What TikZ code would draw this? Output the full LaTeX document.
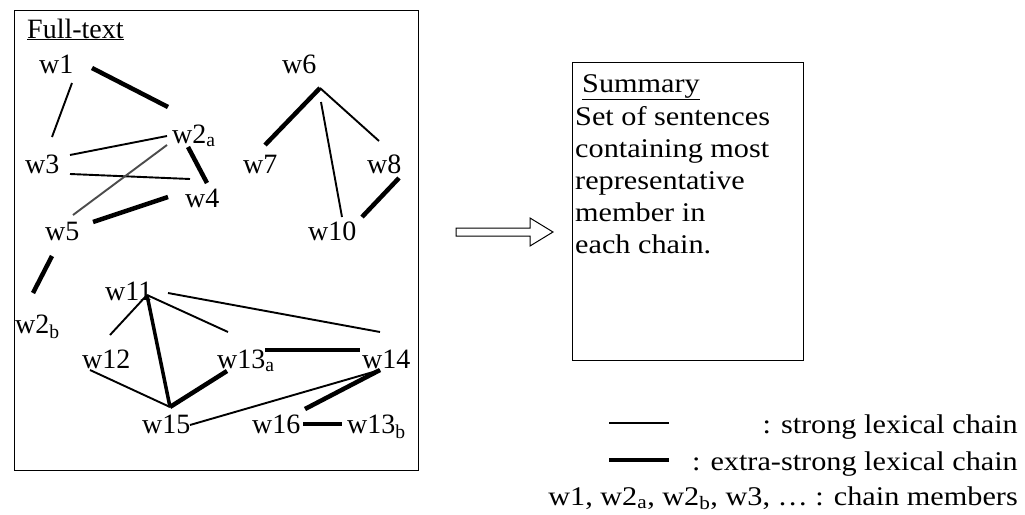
\documentclass[tikz,border=0pt]{standalone}
\usepackage{fontspec}
\setmainfont{Liberation Serif}
\newfontfamily\widefont[FakeStretch=1.12]{Liberation Serif}
\usetikzlibrary{calc}
\begin{document}
\begin{tikzpicture}[x=1pt,y=-1pt,
  lbl/.style={inner sep=0pt,anchor=base west,font=\fontsize{28}{30}\selectfont},
  wtxt/.style={inner sep=0pt,font=\widefont\fontsize{27}{30}\selectfont},
  strong/.style={line width=1.9pt},
  xstrong/.style={line width=4.5pt},
  frame/.style={draw,line width=1.3pt,inner sep=0pt,anchor=north west}]
\useasboundingbox[fill=white] (0,0) rectangle (1025,514);
% frames
\node[frame,minimum width=404,minimum height=460] (full) at (14,10) {};
\node[frame,minimum width=231,minimum height=298] (sumbox) at (572,62) {};
% labels
\node[lbl] (ft) at (27,38) {\underline{Full-text}};
\node[lbl] (w1) at (39,73) {w1};
\node[lbl] (w6) at (282,73) {w6};
\node[lbl] (w2a) at (172,143) {w2\textsubscript{a}};
\node[lbl] (w3) at (25,173) {w3};
\node[lbl] (w7) at (243,173) {w7};
\node[lbl] (w8) at (367,173) {w8};
\node[lbl] (w4) at (185,207) {w4};
\node[lbl] (w5) at (45,240) {w5};
\node[lbl] (w10) at (308,240) {w10};
\node[lbl] (w2b) at (15,333) {w2\textsubscript{b}};
\node[lbl] (w11) at (105,300) {w11};
\node[lbl] (w12) at (82,368) {w12};
\node[lbl] (w13a) at (217,368) {w13\textsubscript{a}};
\node[lbl] (w14) at (362,368) {w14};
\node[lbl] (w15) at (142,433) {w15};
\node[lbl] (w16) at (252,433) {w16};
\node[lbl] (w13b) at (347,433) {w13\textsubscript{b}};
% chain links
\draw[strong] ([shift={(33,10)}]w1.base west) -- ([shift={(27,-36)}]w3.base west);
\draw[xstrong] ([shift={(53,-5)}]w1.base west) -- ([shift={(-4,-36)}]w2a.base west);
\draw[strong] ([shift={(45,-18)}]w3.base west) -- ([shift={(-5,-7)}]w2a.base west);
\draw[strong] ([shift={(45,1)}]w3.base west) -- ([shift={(5,-28)}]w4.base west);
\draw[xstrong] ([shift={(16,4)}]w2a.base west) -- ([shift={(22,-24)}]w4.base west);
\draw[strong,black!70] ([shift={(28,-25)}]w5.base west) -- ([shift={(-5,2)}]w2a.base west);
\draw[xstrong] ([shift={(48,-18)}]w5.base west) -- ([shift={(-17,-10)}]w4.base west);
\draw[xstrong] ([shift={(38,15)}]w6.base west) -- ([shift={(22,-28)}]w7.base west);
\draw[strong] ([shift={(38,15)}]w6.base west) -- ([shift={(12,-32)}]w8.base west);
\draw[strong] ([shift={(39,29)}]w6.base west) -- ([shift={(34,-23)}]w10.base west);
\draw[xstrong] ([shift={(32,5)}]w8.base west) -- ([shift={(54,-23)}]w10.base west);
\draw[xstrong] ([shift={(7,16)}]w5.base west) -- ([shift={(18,-40)}]w2b.base west);
\draw[strong] ([shift={(42,-5)}]w11.base west) -- ([shift={(28,-33)}]w12.base west);
\draw[strong] ([shift={(42,-5)}]w11.base west) -- ([shift={(11,-36)}]w13a.base west);
\draw[strong] ([shift={(63,-7)}]w11.base west) -- ([shift={(18,-36)}]w14.base west);
\draw[xstrong,line width=3.5pt] ([shift={(42,-5)}]w11.base west) -- ([shift={(28,-26)}]w15.base west);
\draw[strong] ([shift={(8,2)}]w12.base west) -- ([shift={(28,-26)}]w15.base west);
\draw[xstrong] ([shift={(10,3)}]w13a.base west) -- ([shift={(28,-26)}]w15.base west);
\draw[xstrong] ([shift={(48,-18)}]w13a.base west) -- ([shift={(-2,-18)}]w14.base west);
\draw[strong] ([shift={(18,2)}]w14.base west) -- ([shift={(48,-8)}]w15.base west);
\draw[xstrong] ([shift={(18,2)}]w14.base west) -- ([shift={(53,-24)}]w16.base west);
\draw[xstrong] ([shift={(51,-9)}]w16.base west) -- ([shift={(-5,-9)}]w13b.base west);
% arrow
\draw[line width=1pt,fill=white] (456,228) -- (530,228) -- (530,218) -- (553,232) -- (530,246) -- (530,236) -- (456,236) -- cycle;
% summary text
\node[wtxt,anchor=base west] (st0) at (582,92) {\underline{Summary}};
\node[wtxt,anchor=base west] (st1) at (575,125) {Set of sentences};
\node[wtxt,anchor=base west] (st2) at (575,157) {containing most};
\node[wtxt,anchor=base west] (st3) at (575,189) {representative};
\node[wtxt,anchor=base west] (st4) at (575,221) {member in};
\node[wtxt,anchor=base west] (st5) at (575,253) {each chain.};
% legend
\coordinate (l1a) at (609,423); \coordinate (l1b) at (669,423);
\coordinate (l2a) at (609,460); \coordinate (l2b) at (669,460);
\draw[strong] (l1a) -- (l1b);
\draw[xstrong] (l2a) -- (l2b);
\node[wtxt,anchor=base east] (lg1) at (1018,433) {: strong lexical chain};
\node[wtxt,anchor=base east] (lg2) at (1018,470) {: extra-strong lexical chain};
\node[wtxt,anchor=base east] (lg3) at (1018,505) {w1, w2\textsubscript{a}, w2\textsubscript{b}, w3, \dots\ : chain members};
\end{tikzpicture}
\end{document}
